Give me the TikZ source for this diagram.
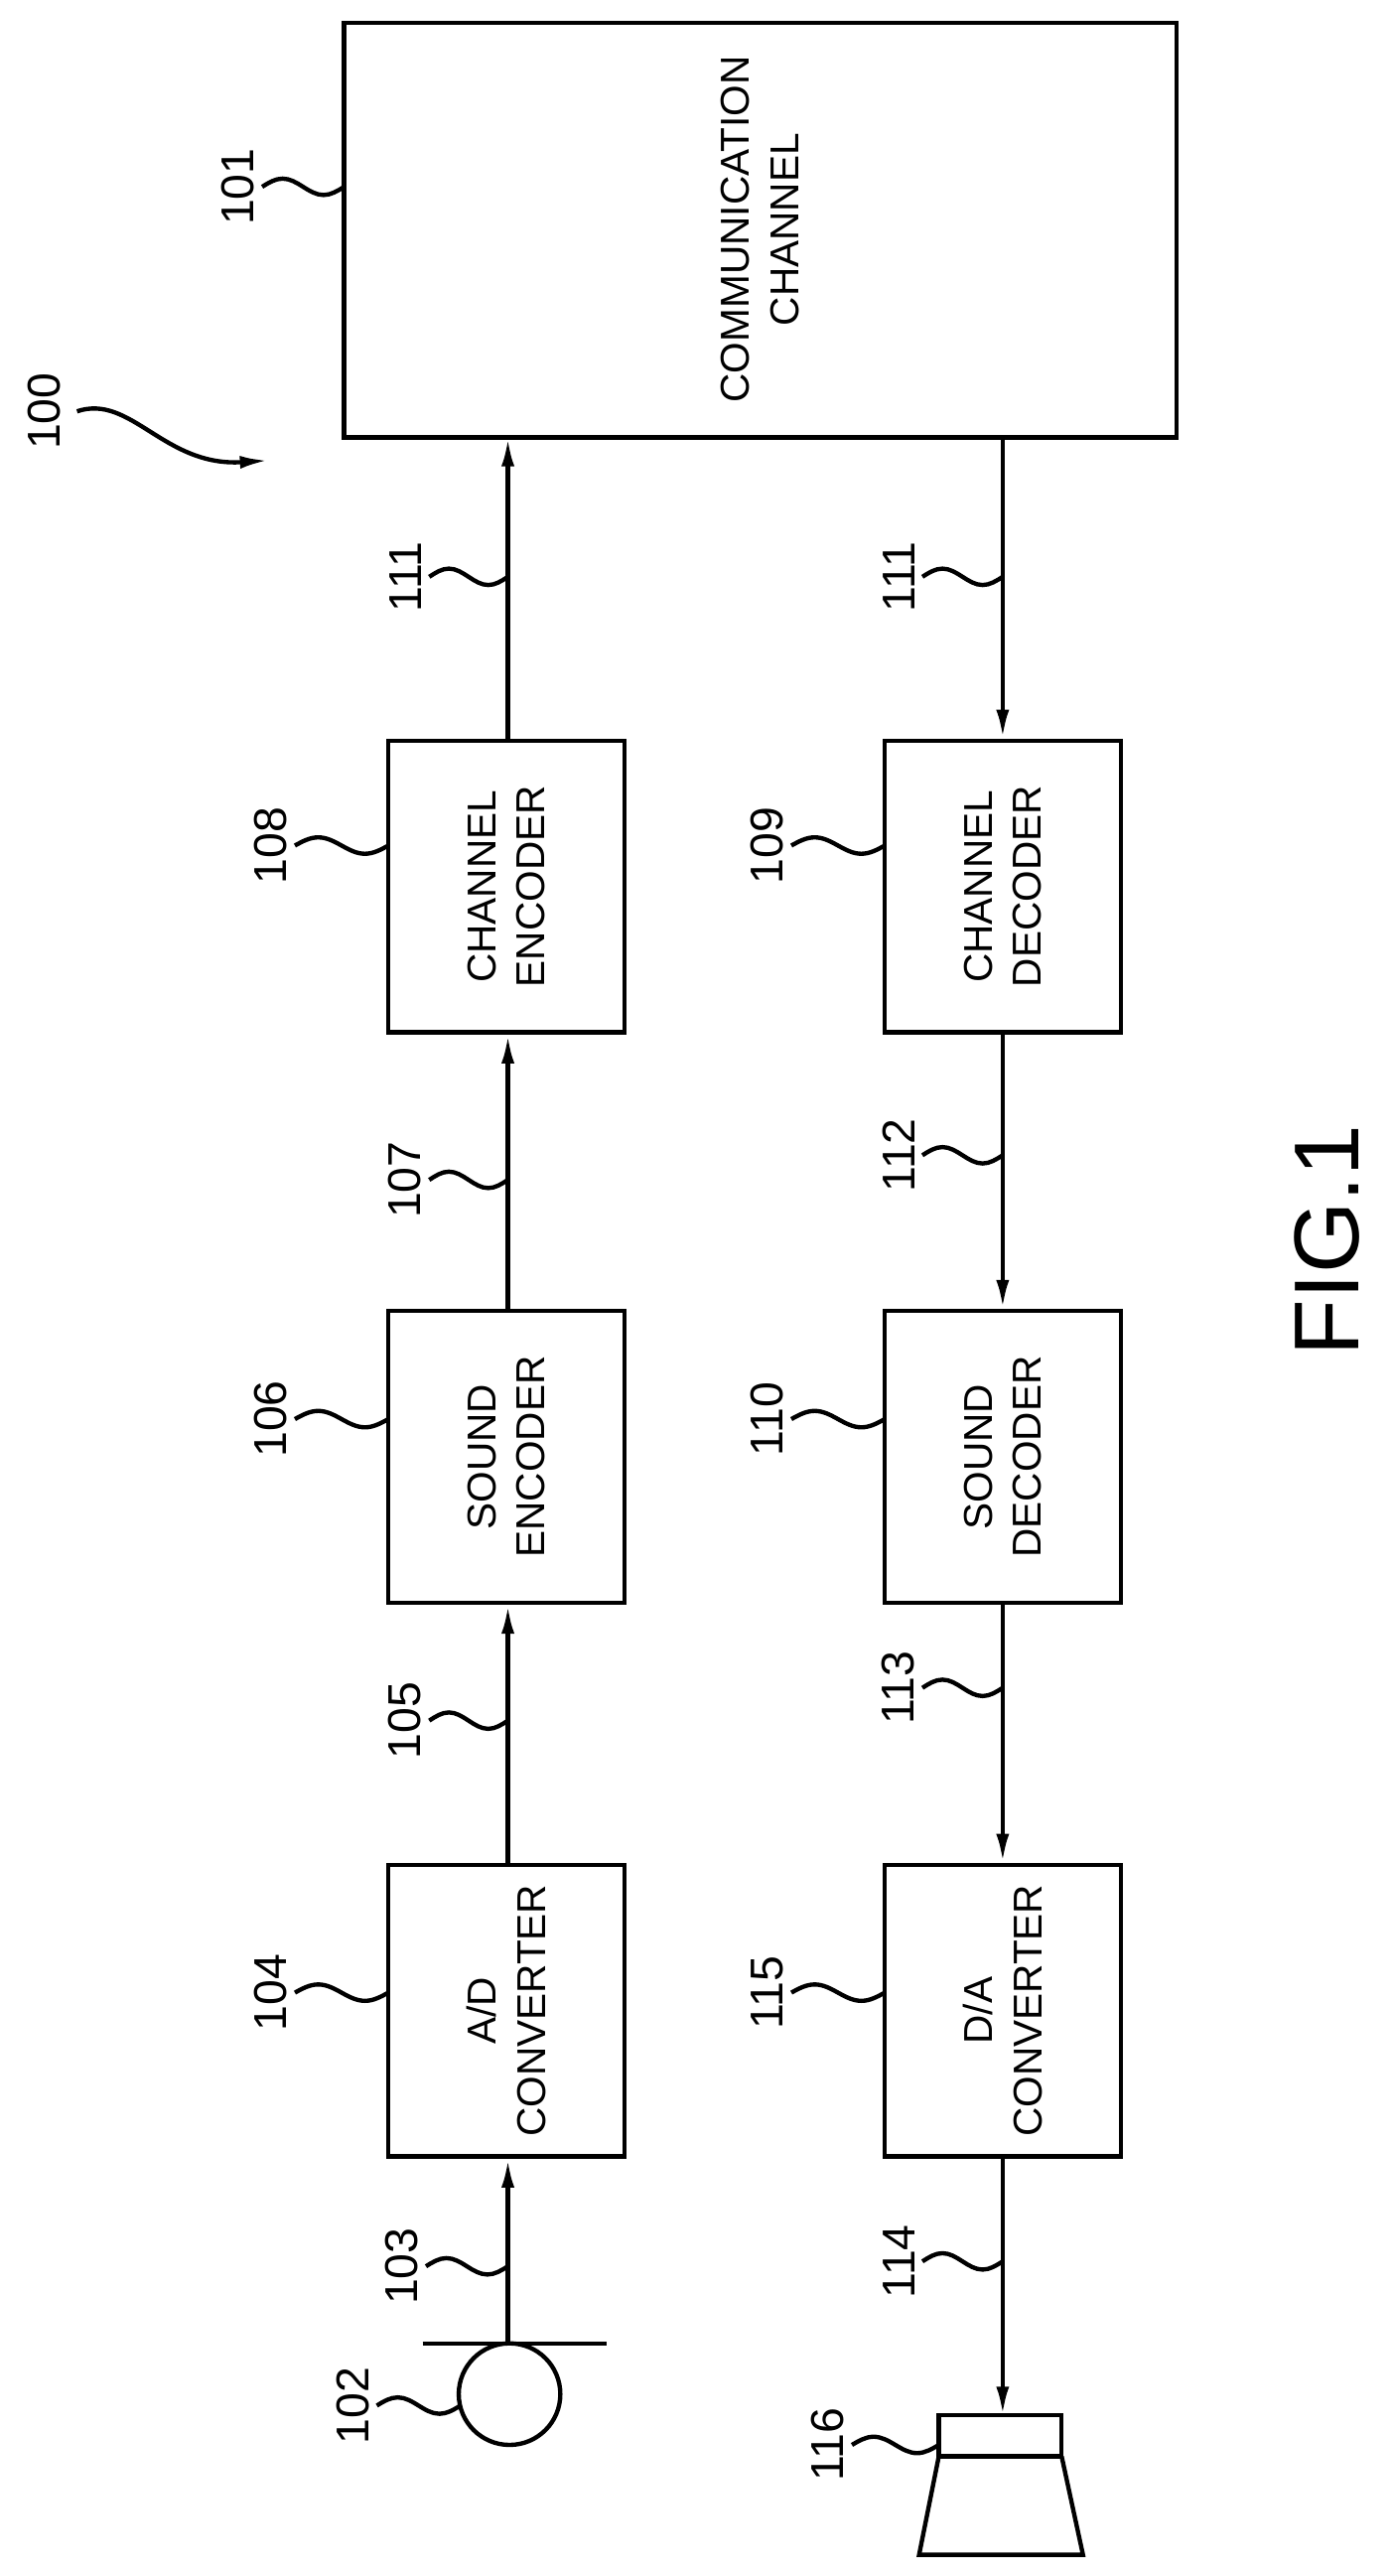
\documentclass[tikz,border=0pt]{standalone}
\usepackage{fontspec}
\setmainfont{Liberation Sans}
\usetikzlibrary{arrows.meta}
\begin{document}
\begin{tikzpicture}[x=0.02cm,y=-0.02cm,line width=1.5pt,
    blk/.style={draw,rotate=90,align=center,font=\fontsize{14}{17}\selectfont},
    sig/.style={-{Latex[length=10pt,width=4.5pt]}},
    num/.style={anchor=south,rotate=90,inner sep=2pt,font=\fontsize{16}{16}\selectfont}]
  \useasboundingbox (0,0) rectangle (850,1572);

  % blocks
  \draw (210,14) rectangle (718,267);
  \node[rotate=90,align=center,font=\fontsize{14}{17}\selectfont] (chan) at (464,140) {COMMUNICATION\\CHANNEL};
  \coordinate (chanS) at (310,267);
  \coordinate (chanR) at (612,267);
  \foreach \name/\x/\y/\txt in {cenc/309/541/{CHANNEL\\ENCODER}, senc/309/889/{SOUND\\ENCODER},
      adc/309/1227/{A/D\\CONVERTER}, cdec/612/541/{CHANNEL\\DECODER},
      sdec/612/889/{SOUND\\DECODER}, dac/612/1227/{D/A\\CONVERTER}} {
    \node[blk,minimum width=178*0.02cm,minimum height=144*0.02cm] (\name) at (\x,\y) {\txt};
  }

  % microphone and speaker
  \draw (311,1461) circle (31);
  \draw (258,1430) -- (370,1430);
  \coordinate (mic) at (310,1430);
  \draw (573,1474) rectangle (648,1499);
  \draw (573,1499) -- (561,1559) -- (661,1559) -- (648,1499);
  \coordinate (spk) at (612,1474);

  % signal lines
  \draw[sig] (mic) -- (adc.west -| mic);
  \draw[sig] (adc.east -| mic) -- (senc.west -| mic);
  \draw[sig] (senc.east -| mic) -- (cenc.west -| mic);
  \draw[sig] (cenc.east -| mic) -- (chanS);
  \draw[sig] (chanR) -- (cdec.east);
  \draw[sig] (cdec.west) -- (sdec.east);
  \draw[sig] (sdec.west) -- (dac.east);
  \draw[sig] (dac.west) -- (spk);

  % reference numerals
  \foreach \lbl/\x/\y/\ex in {101/160/114/210, 102/230/1468/281, 103/260/1383/310,
      104/180/1216/237, 105/262/1050/310, 106/180/866/237, 107/262/720/310,
      108/180/516/237, 111/262/352/310, 109/483/516/540, 111/563/352/612,
      112/563/705/612, 110/483/866/540, 113/563/1030/612, 115/483/1216/540,
      114/563/1380/612, 116/520/1492/573} {
    \pgfmathsetmacro{\q}{(\ex-\x)/4}
    \draw (\x,\y) node[num] {\lbl} sin ++(\q,-5) cos ++(\q,5) sin ++(\q,5) cos ++(\q,-5);
  }
  \node[num] (sys) at (42,251) {100};
  \draw[sig] (47,251) .. controls (80,240) and (100,285) .. (164,281);

  \node[rotate=90,font=\fontsize{32}{32}\selectfont] (fig) at (810,757) {FIG.1};
\end{tikzpicture}
\end{document}
